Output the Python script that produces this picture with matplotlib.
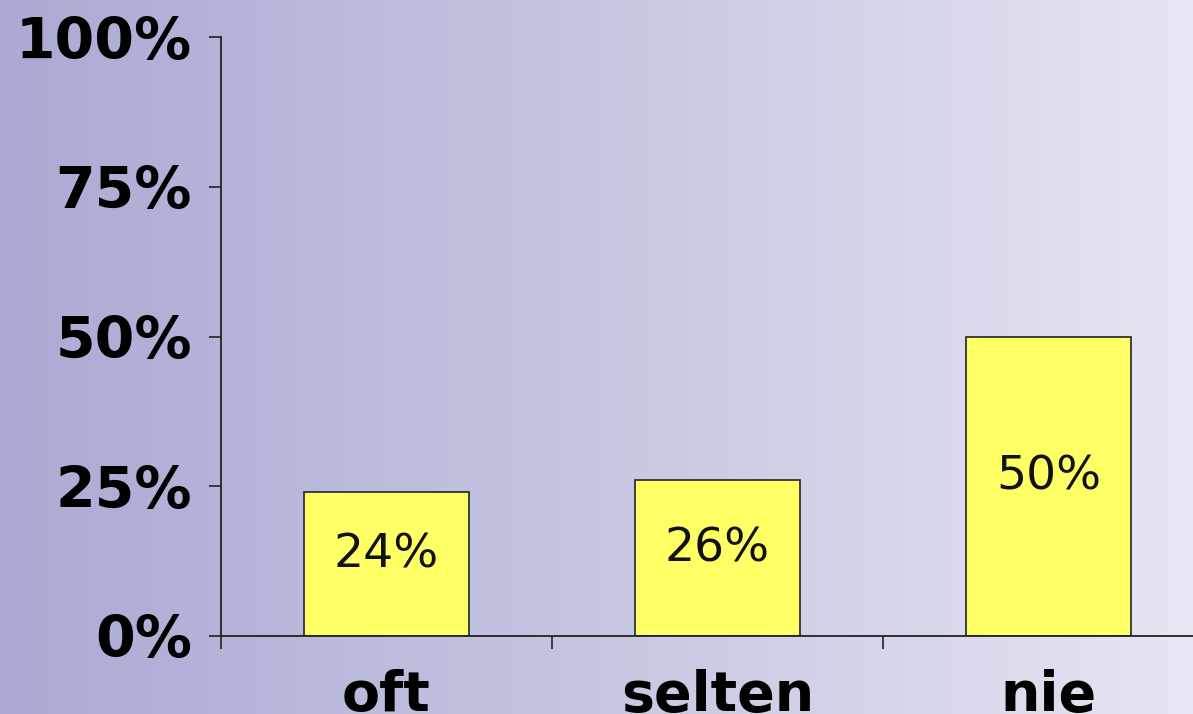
import matplotlib
matplotlib.use("Agg")
import matplotlib.pyplot as plt
import numpy as np
from matplotlib.colors import LinearSegmentedColormap

categories = ["oft", "selten", "nie"]
values = [24, 26, 50]
value_labels = ["24%", "26%", "50%"]
y_ticks = [0, 25, 50, 75, 100]
y_tick_labels = ["0%", "25%", "50%", "75%", "100%"]

W, H = 1193, 714
fig = plt.figure(figsize=(W / 100, H / 100), dpi=100)

# background gradient left -> right
bg = fig.add_axes([0, 0, 1, 1])
grad = LinearSegmentedColormap.from_list("bg", ["#aaaad4", "#c6c6e2", "#e7e6f2"])
bg.imshow(np.linspace(0, 1, 256).reshape(1, -1), cmap=grad, aspect="auto",
          extent=[0, 1, 0, 1])
bg.set_axis_off()

# plot area: y axis at x=221, 0% at y=636, 100% at y=37, category width 331 px
ax = fig.add_axes([221 / W, (H - 636) / H, 993 / W, 599 / H])
ax.patch.set_alpha(0)

x = np.arange(len(categories))
ax.bar(x, values, width=0.5, color="#ffff66", edgecolor="#333333", linewidth=1.3)

for xi, v, lab in zip(x, values, value_labels):
    ax.text(xi, v / 2 + 1.5, lab, ha="center", va="center", fontsize=34,
            color="#111111", family="DejaVu Sans")

ax.set_xlim(-0.5, 2.5)
ax.set_ylim(0, 100)
ax.set_yticks(y_ticks)
ax.set_yticklabels(y_tick_labels, fontsize=41, fontweight="bold")
ax.set_xticks(x)
ax.set_xticklabels(categories, fontsize=40, fontweight="bold")
ax.set_xticks([-0.5, 0.5, 1.5], minor=True)

ax.tick_params(axis="y", length=9, width=1.2, color="#222222", pad=12)
ax.tick_params(axis="x", which="major", length=0, pad=24)
ax.tick_params(axis="x", which="minor", length=9, width=1.2, color="#222222")

for side in ["top", "right"]:
    ax.spines[side].set_visible(False)
for side in ["left", "bottom"]:
    ax.spines[side].set_color("#222222")
    ax.spines[side].set_linewidth(1.3)

fig.savefig("out.png", dpi=100)
